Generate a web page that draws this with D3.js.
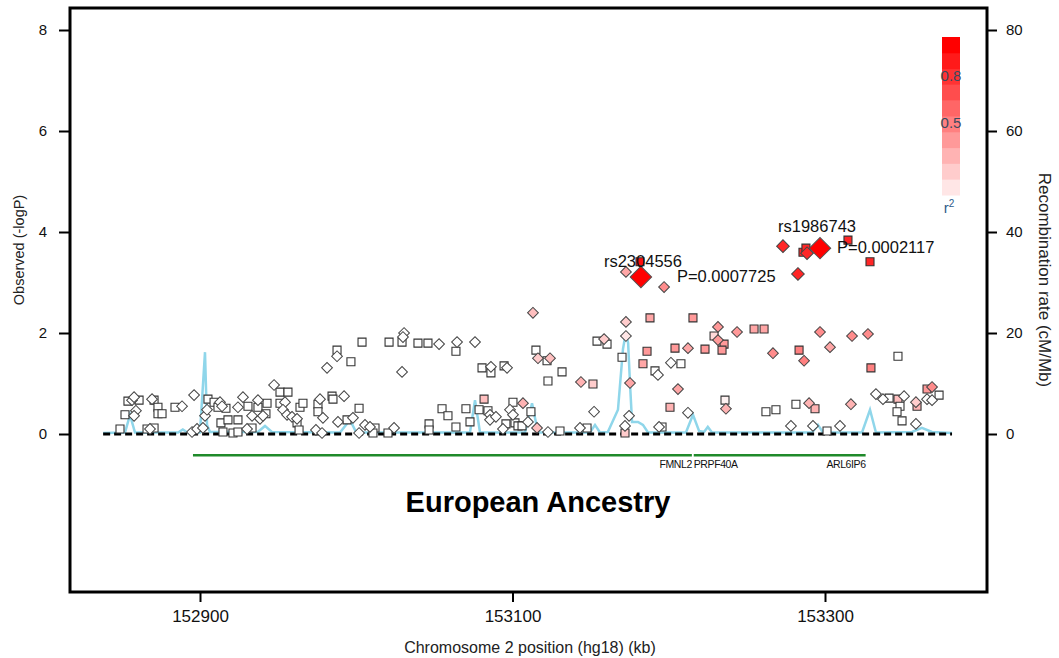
<!DOCTYPE html>
<html>
<head>
<meta charset="utf-8">
<script src="https://cdn.jsdelivr.net/npm/d3@7"></script>
<style>
  body { margin: 0; background: #fff; }
  text { font-family: "Liberation Sans", Arial, sans-serif; }
</style>
</head>
<body>
<div id="chart-container"></div>
<script>
// position (kb), -logP, r2
const squareSnps = [
  [152848.8,0.10,0],[152852.0,0.38,0],[152853.9,0.65,0],[152861.0,0.67,0],[152866.1,0.10,0],
  [152870.6,0.12,0],[152870.6,0.67,0],[152873.1,0.53,0],[152873.1,0.40,0],[152875.7,0.40,0],
  [152884.0,0.53,0],[152905.1,0.69,0],[152909.0,0.63,0],[152911.5,0.53,0],[152916.6,0.51,0],
  [152914.7,0.04,0],[152913.4,0.22,0],[152917.9,0.28,0],[152924.3,0.28,0],[152921.1,0.02,0],
  [152924.3,0.04,0],[152930.7,0.55,0],[152933.3,0.12,0],[152937.1,0.53,0],[152942.9,0.61,0],
  [152942.2,0.40,0],[152951.2,0.83,0],[152956.3,0.83,0],[152951.2,0.61,0],[152962.1,0.22,0],
  [152963.4,0.08,0],[152964.0,0.53,0],[152965.9,0.61,0],[152975.5,0.59,0],[152975.5,0.44,0],
  [152984.5,0.75,0],[152985.1,0.69,0],[152987.7,1.66,0],[152994.1,0.28,0],[152996.6,1.43,0],
  [153001.8,0.51,0],[153003.7,1.82,0],[153012.0,0.12,0],[153010.7,0.02,0],[153020.3,0.02,0],
  [153021.0,1.82,0],[153029.3,1.82,0],[153039.5,1.80,0],[153045.9,1.80,0],[153046.6,0.20,0],
  [153046.6,0.08,0],[153054.9,0.50,0],[153058.7,0.36,0],[153063.8,1.64,0],[153063.8,0.14,0],
  [153070.2,0.50,0],[153072.8,0.24,0],[153078.6,0.48,0],[153080.5,1.31,0],[153081.8,0.69,0.25],
  [153084.3,0.46,0],[153086.2,1.21,0],[153094.6,1.35,0],[153095.8,0.20,0],[153100.3,0.63,0],
  [153101.6,0.22,0],[153103.5,0.16,0],[153106.1,0.16,0],[153111.8,0.44,0],[153115.0,1.66,0],
  [153122.1,1.45,0],[153122.7,1.05,0],[153130.4,0.06,0],[153131.7,1.23,0],[153147.7,0.12,0],
  [153151.5,0.99,0.2],[153154.1,1.84,0],[153160.5,1.78,0],[153170.1,1.52,0],[153172.0,0.02,0.2],
  [153181.6,3.41,0.95],[153183.5,1.39,0.35],[153186.1,1.64,0.4],[153188.0,2.30,0.35],[153191.2,1.25,0],
  [153195.7,0.14,0],[153200.8,0.53,0.3],[153204.0,1.70,0.4],[153207.8,1.39,0],[153215.5,2.30,0.4],
  [153223.2,1.68,0.4],[153229.0,1.94,0.15],[153235.4,1.78,0.4],[153234.1,1.66,0.4],[153236.0,0.67,0.05],
  [153254.6,2.08,0.35],[153261.0,2.08,0.35],[153262.2,0.44,0],[153268.6,0.48,0],[153281.4,0.59,0],
  [153283.4,1.66,0.5],[153285.9,3.60,0.85],[153287.8,3.68,0.85],[153293.6,0.50,0.3],[153301.3,0.06,0],
  [153314.7,3.84,0.85],[153328.8,3.41,0.85],[153329.4,1.31,0.5],[153341.0,0.71,0],[153346.7,1.54,0],
  [153346.7,0.69,0.25],[153348.0,0.55,0],[153346.1,0.44,0],[153349.3,0.26,0],[153358.9,0.55,0.3],
  [153365.3,0.89,0.4],[153373.0,0.77,0]
];

const diamondSnps = [
  [152856.5,0.67,0],[152857.8,0.73,0],[152859.0,0.46,0],[152857.8,0.36,0],[152868.0,0.10,0],
  [152869.3,0.69,0],[152888.5,0.55,0],[152896.2,0.77,0],[152894.9,0.04,0],[152898.1,0.10,0],
  [152901.9,0.12,0],[152903.2,0.36,0],[152904.5,0.48,0],[152912.8,0.63,0],[152914.1,0.55,0],
  [152924.3,0.53,0],[152927.5,0.73,0],[152933.3,0.36,0],[152930.1,0.10,0],[152937.1,0.67,0],
  [152938.4,0.30,0],[152940.3,0.36,0],[152947.4,0.97,0],[152954.4,0.63,0],[152953.1,0.48,0],
  [152955.7,0.38,0],[152958.9,0.34,0],[152962.1,0.30,0],[152974.2,0.08,0],[152976.8,0.69,0],
  [152978.7,0.32,0],[152978.1,0.02,0],[152981.3,1.31,0],[152987.7,1.54,0],[152988.3,0.24,0],
  [152992.2,0.75,0],[152997.9,0.32,0],[153001.8,0.02,0],[153005.6,0.18,0],[153008.8,0.14,0],
  [153024.2,0.12,0],[153030.6,2.00,0],[153029.9,1.92,0],[153029.3,1.23,0],[153053.0,1.78,0],
  [153064.5,1.82,0],[153076.0,1.82,0],[153085.6,0.38,0],[153085.6,0.28,0],[153086.2,1.33,0],
  [153089.4,0.34,0],[153093.9,0.10,0],[153096.5,1.31,0],[153098.4,0.48,0],[153100.3,0.38,0],
  [153106.7,0.61,0.3],[153109.9,0.24,0],[153113.1,2.40,0.25],[153116.3,1.50,0.2],[153115.7,0.12,0.25],
  [153124.0,1.50,0.25],[153122.7,0.04,0],[153143.2,0.12,0],[153143.8,1.03,0.3],[153152.2,0.44,0],
  [153158.6,1.88,0.2],[153172.6,3.21,0.35],[153172.6,2.22,0.2],[153172.6,1.94,0.1],[153174.6,0.36,0],
  [153172.0,0.16,0],[153175.2,1.01,0.35],[153193.1,1.17,0],[153193.8,0.14,0],[153197.0,2.91,0.45],
  [153201.4,1.41,0],[153205.9,0.89,0.35],[153212.3,1.70,0.35],[153212.3,0.42,0],[153231.5,2.12,0.4],
  [153231.5,1.86,0.4],[153236.6,0.50,0.3],[153243.7,2.02,0.4],[153266.7,1.60,0.45],[153273.1,3.72,0.85],
  [153278.2,0.16,0],[153282.7,3.17,0.85],[153288.5,3.58,0.85],[153286.6,1.45,0.5],[153289.8,0.61,0.3],
  [153292.3,0.16,0],[153296.8,2.02,0.45],[153303.2,1.72,0.35],[153309.6,0.16,0],[153316.6,0.59,0.3],
  [153317.3,1.94,0.45],[153327.5,1.98,0.45],[153332.6,0.79,0],[153337.1,0.69,0],[153350.6,0.75,0],
  [153358.2,0.63,0.2],[153358.2,0.20,0],[153368.5,0.93,0.45],[153365.3,0.69,0],[153368.5,0.67,0]
];

// the two reported SNPs
const leadNames = ['rs2304556', 'rs1986743'];
const leadPos = [153182.2, 153296.8];
const leadLogP = [3.11, 3.68];
const leadP = ['P=0.0007725', 'P=0.0002117'];

// recombination rate (cM/Mb)
const recPos = [152838,152852,152855.2,152858.4,152886,152889,152892,152900,152903.2,152904.5,152906.4,
  152937,152941.6,152946,152989.6,152996,153000,153072.8,153076,153079.2,153108,153112.5,153116.3,
  153149.6,153152.8,153156,153161,153167.5,153170.7,153172.6,153174,153175.2,153176.5,153180.3,153183.5,
  153186.7,153211,153215.5,153219.4,153222.6,153225,153227.7,153291.7,153295.5,153298.7,153323.7,
  153328.8,153332.6,153355.7,153362,153368.5,153381.3];
const recRate = [0.2,0.3,3.8,0.3,0.3,0.9,0.3,0.3,16.2,1.8,0.4,
  0.4,1.6,0.4,0.3,2.8,0.3,0.3,6.7,0.3,0.3,6.1,0.3,
  0.3,1.8,0.3,0.4,4.8,16.8,20.2,18,10,2.4,2.4,1.8,
  0.3,0.3,3.8,0.6,0.4,1.4,0.3,0.3,1.8,0.3,0.3,
  4.8,0.3,0.4,1.2,0.4,0.2];

const geneNames = ['FMNL2', 'PRPF40A', 'ARL6IP6'];
const geneStart = [152895.5, 153216.0, 153216.0];
const geneEnd = [153214.8, 153326.0, 153326.0];

const xTicks = [152900, 153100, 153300];
const yTicks = [0, 2, 4, 6, 8];
const recTicks = [0, 20, 40, 60, 80];
const legendTicks = [0.8, 0.5];

const width = 1059, height = 658;
const frame = { left: 70, right: 987, top: 8, bottom: 592 };

const svg = d3.select('#chart-container')
  .append('svg')
  .attr('width', width)
  .attr('height', height);

const x = d3.scaleLinear().domain([152900, 153300]).range([200, 825]);
const y = d3.scaleLinear().domain([0, 8]).range([434, 30]);
const yRec = d3.scaleLinear().domain([0, 80]).range([434, 30]);
const r2Color = d3.interpolateRgb('#ffffff', '#ff0000');

// frame
svg.append('rect')
  .attr('x', frame.left)
  .attr('y', frame.top)
  .attr('width', frame.right - frame.left)
  .attr('height', frame.bottom - frame.top)
  .attr('fill', 'none')
  .attr('stroke', '#000')
  .attr('stroke-width', 3);

// axes
const styleAxis = (g, size) => {
  g.select('.domain').remove();
  g.selectAll('.tick line').attr('stroke', '#000').attr('stroke-width', 2);
  g.selectAll('.tick text').attr('fill', '#111').style('font-size', size + 'px')
    .style('font-family', '"Liberation Sans", Arial, sans-serif');
};

svg.append('g')
  .attr('transform', `translate(${frame.left},0)`)
  .call(d3.axisLeft(y).tickValues(yTicks).tickSize(11).tickPadding(12))
  .call(g => styleAxis(g, 15));

svg.append('g')
  .attr('transform', `translate(${frame.right},0)`)
  .call(d3.axisRight(yRec).tickValues(recTicks).tickSize(10).tickPadding(9))
  .call(g => styleAxis(g, 15));

svg.append('g')
  .attr('transform', `translate(0,${frame.bottom})`)
  .call(d3.axisBottom(x).tickValues(xTicks).tickFormat(d3.format('d')).tickSize(10).tickPadding(8))
  .call(g => styleAxis(g, 17));

// axis titles
svg.append('text')
  .attr('transform', `translate(24,250) rotate(-90)`)
  .attr('text-anchor', 'middle')
  .style('font-size', '14.5px')
  .attr('fill', '#222')
  .text('Observed (-logP)');

svg.append('text')
  .attr('transform', `translate(1039,280) rotate(90)`)
  .attr('text-anchor', 'middle')
  .style('font-size', '17px')
  .attr('fill', '#222')
  .text('Recombination rate (cM/Mb)');

svg.append('text')
  .attr('x', 530)
  .attr('y', 653)
  .attr('text-anchor', 'middle')
  .style('font-size', '16px')
  .attr('fill', '#222')
  .text('Chromosome 2 position (hg18) (kb)');

// recombination line
const recLine = d3.line()
  .x((d, i) => x(recPos[i]))
  .y(d => yRec(d));

svg.append('path')
  .datum(recRate)
  .attr('fill', 'none')
  .attr('stroke', '#8fd6ea')
  .attr('stroke-width', 2.5)
  .attr('d', recLine);

// zero line
svg.append('line')
  .attr('x1', x(recPos[0]))
  .attr('x2', x(recPos[recPos.length - 1]))
  .attr('y1', y(0))
  .attr('y2', y(0))
  .attr('stroke', '#000')
  .attr('stroke-width', 3)
  .attr('stroke-dasharray', '7,4');

// genes
const geneY = y(-0.42);
svg.selectAll('.gene')
  .data(geneNames.slice(0, 2))
  .enter()
  .append('line')
  .attr('class', 'gene')
  .attr('x1', (d, i) => x(geneStart[i]))
  .attr('x2', (d, i) => x(geneEnd[i]))
  .attr('y1', geneY)
  .attr('y2', geneY)
  .attr('stroke', '#1f8a2a')
  .attr('stroke-width', 2.5);

svg.selectAll('.gene-label')
  .data(geneNames)
  .enter()
  .append('text')
  .attr('class', 'gene-label')
  .attr('x', (d, i) => i === 1 ? x(geneStart[i]) : x(geneEnd[i]))
  .attr('y', geneY + 13)
  .attr('text-anchor', (d, i) => i === 1 ? 'start' : 'end')
  .style('font-size', '10.5px')
  .style('letter-spacing', '-0.4px')
  .attr('fill', '#111')
  .text(d => d);

svg.append('text')
  .attr('x', 538)
  .attr('y', 512)
  .attr('text-anchor', 'middle')
  .style('font-size', '29px')
  .style('font-weight', 'bold')
  .attr('fill', '#000')
  .text('European Ancestry');

// SNPs
const square = d3.symbol().type(d3.symbolSquare).size(64);
const diamond = d3.symbol().type(d3.symbolSquare);

svg.selectAll('.snp-sq')
  .data(squareSnps)
  .enter()
  .append('path')
  .attr('class', 'snp-sq')
  .attr('d', square)
  .attr('transform', d => `translate(${x(d[0])},${y(d[1])})`)
  .attr('fill', d => r2Color(d[2]))
  .attr('stroke', '#333')
  .attr('stroke-width', 1.1);

svg.selectAll('.snp-dm')
  .data(diamondSnps)
  .enter()
  .append('path')
  .attr('class', 'snp-dm')
  .attr('d', d => diamond.size(d[2] > 0.8 ? 80 : 58)())
  .attr('transform', d => `translate(${x(d[0])},${y(d[1])}) rotate(45)`)
  .attr('fill', d => r2Color(d[2]))
  .attr('stroke', '#444')
  .attr('stroke-width', 1);

svg.selectAll('.lead')
  .data(leadNames)
  .enter()
  .append('path')
  .attr('class', 'lead')
  .attr('d', diamond.size(230)())
  .attr('transform', (d, i) => `translate(${x(leadPos[i])},${y(leadLogP[i])}) rotate(45)`)
  .attr('fill', '#ff0000')
  .attr('stroke', '#555')
  .attr('stroke-width', 1);

// annotations
const nameOffset = [[-37, -10], [-42, -16]];
const pOffset = [[36, 5], [17, 5]];

svg.selectAll('.lead-name')
  .data(leadNames)
  .enter()
  .append('text')
  .attr('x', (d, i) => x(leadPos[i]) + nameOffset[i][0])
  .attr('y', (d, i) => y(leadLogP[i]) + nameOffset[i][1])
  .style('font-size', '16.5px')
  .attr('fill', '#111')
  .text(d => d);

svg.selectAll('.lead-p')
  .data(leadP)
  .enter()
  .append('text')
  .attr('x', (d, i) => x(leadPos[i]) + pOffset[i][0])
  .attr('y', (d, i) => y(leadLogP[i]) + pOffset[i][1])
  .style('font-size', '16.5px')
  .attr('fill', '#111')
  .text(d => d);

// r2 legend
const legendY = d3.scaleLinear().domain([0, 1]).range([195, 37]);
const bands = d3.range(10).map(i => (i + 1) / 10);

svg.selectAll('.band')
  .data(bands)
  .enter()
  .append('rect')
  .attr('x', 942)
  .attr('y', d => legendY(d))
  .attr('width', 18)
  .attr('height', legendY(0) - legendY(0.1) + 0.5)
  .attr('fill', d => r2Color(d));

svg.selectAll('.legend-label')
  .data(legendTicks)
  .enter()
  .append('text')
  .attr('x', 951)
  .attr('y', d => legendY(d) + 12)
  .attr('text-anchor', 'middle')
  .style('font-size', '15px')
  .attr('fill', '#3a4a5e')
  .text(d => d);

svg.append('text')
  .attr('x', 949)
  .attr('y', legendY(0) + 18)
  .attr('text-anchor', 'middle')
  .style('font-size', '15px')
  .attr('fill', '#2f5c8a')
  .html('r<tspan dy="-6" font-size="10px">2</tspan>');
</script>
</body>
</html>
